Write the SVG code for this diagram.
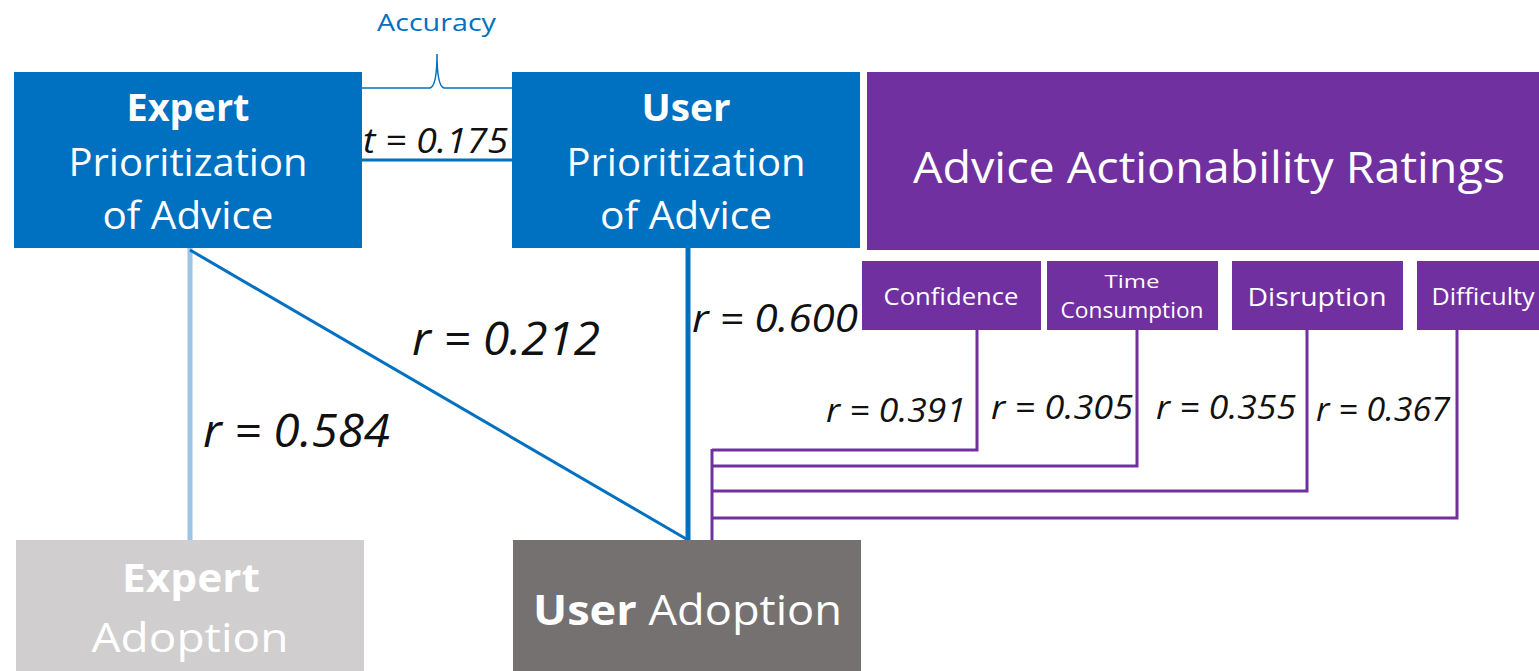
<svg xmlns="http://www.w3.org/2000/svg" width="1539" height="671" viewBox="0 0 1539 671">
<style>
text{font-family:"Open Sans","Liberation Sans",sans-serif;}
.w{fill:#fff;text-anchor:middle;}
.b{font-weight:bold;}
.lab{fill:#111;font-style:italic;}
.blue{fill:#0070C0;}
.purple{fill:#7030A0;}
.pl{stroke:#7030A0;stroke-width:3;fill:none;}
</style>
<rect width="1539" height="671" fill="#fff"/>
<g id="connectors">
  <path d="M362,88 H430 Q437,86 437,54 Q437,86 444,88 H512" fill="none" stroke="#0070C0" stroke-width="1.5"/>
  <line x1="362" y1="160" x2="512" y2="160" stroke="#0070C0" stroke-width="3"/>
  <line x1="190" y1="248" x2="190" y2="540" stroke="#9DC3E6" stroke-width="5"/>
  <line x1="190" y1="250" x2="688" y2="540" stroke="#0070C0" stroke-width="3"/>
  <line x1="688" y1="248" x2="688" y2="540" stroke="#0070C0" stroke-width="5"/>
  <path class="pl" d="M977,330 V450 H712"/>
  <path class="pl" d="M1137,330 V466 H712"/>
  <path class="pl" d="M1307,330 V491 H712"/>
  <path class="pl" d="M1457,330 V518 H712"/>
  <line class="pl" x1="712" y1="449" x2="712" y2="540"/>
  <text x="377" y="31" font-size="23" fill="#0070C0" textLength="119" lengthAdjust="spacingAndGlyphs">Accuracy</text>
  <text class="lab" x="363" y="153" font-size="34" textLength="145" lengthAdjust="spacingAndGlyphs">t = 0.175</text>
  <text class="lab" x="412" y="355" font-size="46" textLength="188" lengthAdjust="spacingAndGlyphs">r = 0.212</text>
  <text class="lab" x="203" y="447" font-size="46" textLength="187" lengthAdjust="spacingAndGlyphs">r = 0.584</text>
  <text class="lab" x="692" y="332" font-size="38" textLength="166" lengthAdjust="spacingAndGlyphs">r = 0.600</text>
  <text class="lab" x="826" y="422" font-size="32" textLength="140" lengthAdjust="spacingAndGlyphs">r = 0.391</text>
  <text class="lab" x="991" y="419" font-size="32" textLength="142" lengthAdjust="spacingAndGlyphs">r = 0.305</text>
  <text class="lab" x="1156" y="419" font-size="32" textLength="140" lengthAdjust="spacingAndGlyphs">r = 0.355</text>
  <text class="lab" x="1316" y="421" font-size="32" textLength="134" lengthAdjust="spacingAndGlyphs">r = 0.367</text>
</g>
<g id="expert-prioritization">
  <rect class="blue" x="14" y="72" width="348" height="176"/>
  <text class="w b" x="188" y="121" font-size="38" textLength="123" lengthAdjust="spacingAndGlyphs">Expert</text>
  <text class="w" x="188" y="176" font-size="38" textLength="239" lengthAdjust="spacingAndGlyphs">Prioritization</text>
  <text class="w" x="188" y="229" font-size="38" textLength="171" lengthAdjust="spacingAndGlyphs">of Advice</text>
</g>
<g id="user-prioritization">
  <rect class="blue" x="512" y="72" width="348" height="176"/>
  <text class="w b" x="686" y="121" font-size="38" textLength="89" lengthAdjust="spacingAndGlyphs">User</text>
  <text class="w" x="686" y="176" font-size="38" textLength="239" lengthAdjust="spacingAndGlyphs">Prioritization</text>
  <text class="w" x="686" y="229" font-size="38" textLength="172" lengthAdjust="spacingAndGlyphs">of Advice</text>
</g>
<g id="advice-actionability-ratings">
  <rect class="purple" x="867" y="72" width="672" height="178"/>
  <text class="w" x="1209" y="183" font-size="44" textLength="592" lengthAdjust="spacingAndGlyphs">Advice Actionability Ratings</text>
</g>
<g id="confidence">
  <rect class="purple" x="862" y="261" width="179" height="69"/>
  <text class="w" x="951" y="305" font-size="23" textLength="135" lengthAdjust="spacingAndGlyphs">Confidence</text>
</g>
<g id="time-consumption">
  <rect class="purple" x="1047" y="261" width="171" height="69"/>
  <text class="w" x="1132" y="288" font-size="19" textLength="55" lengthAdjust="spacingAndGlyphs">Time</text>
  <text class="w" x="1132" y="318" font-size="21" textLength="143" lengthAdjust="spacingAndGlyphs">Consumption</text>
</g>
<g id="disruption">
  <rect class="purple" x="1232" y="261" width="171" height="69"/>
  <text class="w" x="1317" y="306" font-size="26" textLength="139" lengthAdjust="spacingAndGlyphs">Disruption</text>
</g>
<g id="difficulty">
  <rect class="purple" x="1417" y="261" width="130" height="69"/>
  <text class="w" x="1483" y="305" font-size="23" textLength="103" lengthAdjust="spacingAndGlyphs">Difficulty</text>
</g>
<g id="expert-adoption">
  <rect x="16" y="540" width="348" height="140" fill="#D0CECE"/>
  <text class="w b" x="191" y="592" font-size="40" textLength="138" lengthAdjust="spacingAndGlyphs">Expert</text>
  <text class="w" x="190" y="652" font-size="40" textLength="197" lengthAdjust="spacingAndGlyphs">Adoption</text>
</g>
<g id="user-adoption">
  <rect x="513" y="540" width="348" height="140" fill="#767171"/>
  <text x="533" y="625" font-size="42" fill="#fff" textLength="309" lengthAdjust="spacingAndGlyphs"><tspan class="b">User</tspan> Adoption</text>
</g>
</svg>
